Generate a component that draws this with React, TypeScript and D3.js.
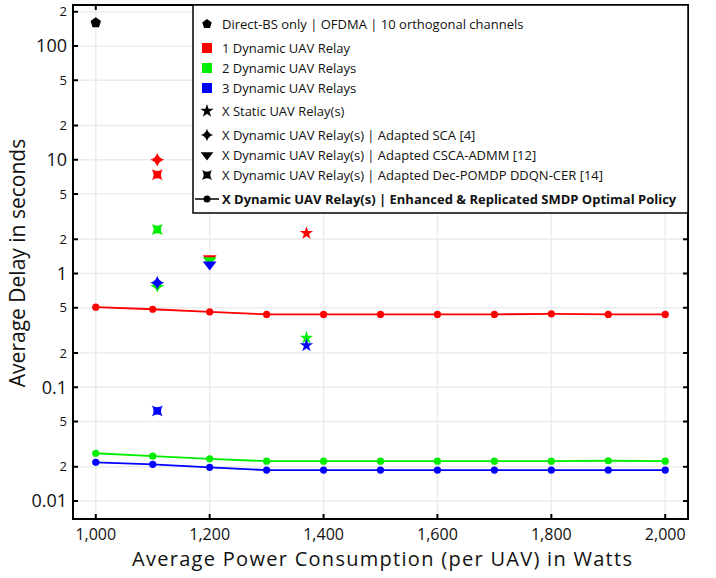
import React from "react";
import * as d3 from "d3";

// ---------- data ----------
const powerLevels = [1000, 1100, 1200, 1300, 1400, 1500, 1600, 1700, 1800, 1900, 2000];
const smdpRelay1 = [0.506, 0.485, 0.46, 0.437, 0.437, 0.437, 0.437, 0.437, 0.442, 0.437, 0.437];
const smdpRelay2 = [0.0263, 0.0248, 0.0235, 0.0224, 0.0224, 0.0224, 0.0224, 0.0224, 0.0224, 0.0226, 0.0224];
const smdpRelay3 = [0.0219, 0.021, 0.0198, 0.0187, 0.0187, 0.0187, 0.0187, 0.0187, 0.0187, 0.0187, 0.0187];

const directBS = { x: 1000, y: 160 };
// [relays, power, delay]
const scaPoints = [[1, 1108, 10.0], [2, 1108, 0.78], [3, 1108, 0.83]];
const cscaPoints = [[1, 1200, 1.36], [2, 1200, 1.31], [3, 1200, 1.2]];
const pomdpPoints = [[1, 1108, 7.4], [2, 1108, 2.44], [3, 1108, 0.062]];
const staticPoints = [[1, 1370, 2.26], [2, 1370, 0.272], [3, 1370, 0.233]];

const xTickValues = [1000, 1200, 1400, 1600, 1800, 2000];
const xTickLabels = ["1,000", "1,200", "1,400", "1,600", "1,800", "2,000"];
const yTickValues = [0.01, 0.02, 0.05, 0.1, 0.2, 0.5, 1, 2, 5, 10, 20, 50, 100, 200];
const yTickLabels = ["0.01", "2", "5", "0.1", "2", "5", "1", "2", "5", "10", "2", "5", "100", "2"];
const yMajor = [0.01, 0.1, 1, 10, 100];

const legendLabels = [
  "Direct-BS only | OFDMA | 10 orthogonal channels",
  "1 Dynamic UAV Relay",
  "2 Dynamic UAV Relays",
  "3 Dynamic UAV Relays",
  "X Static UAV Relay(s)",
  "X Dynamic UAV Relay(s) | Adapted SCA [4]",
  "X Dynamic UAV Relay(s) | Adapted CSCA-ADMM [12]",
  "X Dynamic UAV Relay(s) | Adapted Dec-POMDP DDQN-CER [14]",
  "X Dynamic UAV Relay(s) | Enhanced & Replicated SMDP Optimal Policy",
];

const relayColors: Record<number, string> = { 1: "#ff0000", 2: "#00ee00", 3: "#0000ff" };

// ---------- marker paths (plotly-like) ----------
const rd = (v: number) => Math.round(v * 100) / 100;
function starDiamond(r: number) {
  const rp = rd(r * 1.4), rc = rd(r * 1.9);
  const a = `A ${rc},${rc} 0 0 1 `;
  return `M-${rp},0${a}0,${rp}${a}${rp},0${a}0,-${rp}${a}-${rp},0Z`;
}
function starSquare(r: number) {
  const rp = rd(r * 1.1), rc = rd(r * 2);
  const a = `A ${rc},${rc} 0 0 1 `;
  return `M-${rp},-${rp}${a}-${rp},${rp}${a}${rp},${rp}${a}${rp},-${rp}${a}-${rp},-${rp}Z`;
}
function triangleDown(r: number) {
  const rt = rd((r * 2) / Math.sqrt(3)), r2 = rd(r / 2);
  return `M-${rt},-${r2}H${rt}L0,${rd(r)}Z`;
}
function pentagon(r: number) {
  const x1 = rd(r * 0.951), x2 = rd(r * 0.588), y0 = rd(-r), y1 = rd(r * -0.309), y2 = rd(r * 0.809);
  return `M${x1},${y1}L${x2},${y2}H-${x2}L-${x1},${y1}L0,${y0}Z`;
}
function star(r: number) {
  const rs = r * 1.4;
  const x1 = rd(rs * 0.225), x2 = rd(rs * 0.951), x3 = rd(rs * 0.363), x4 = rd(rs * 0.588);
  const y0 = rd(-rs), y1 = rd(rs * -0.309), y3 = rd(rs * 0.118), y4 = rd(rs * 0.809), y2 = rd(rs * 0.382);
  return `M${x1},${y1}H${x2}L${x3},${y3}L${x4},${y4}L0,${y2}L-${x4},${y4}L-${x3},${y3}L-${x2},${y1}H-${x1}L0,${y0}Z`;
}

const FONT = "'Open Sans', 'DejaVu Sans', sans-serif";

export default function App() {
  const W = 716, H = 578;
  const left = 73, right = 688, top = 5, bottom = 519;
  const x = d3.scaleLinear().domain([960, 2040]).range([left, right]);
  const y = d3.scaleLog().domain([0.00695, 229.3]).range([bottom, top]);

  const line = d3
    .line<number>()
    .x((_, i) => x(powerLevels[i]))
    .y((d) => y(d));

  const series = [
    { vals: smdpRelay1, c: relayColors[1] },
    { vals: smdpRelay2, c: relayColors[2] },
    { vals: smdpRelay3, c: relayColors[3] },
  ];

  const mr = 5;
  const scatterGroups = [
    { pts: scaPoints, path: starDiamond(mr) },
    { pts: cscaPoints, path: triangleDown(mr + 1) },
    { pts: pomdpPoints, path: starSquare(mr) },
    { pts: staticPoints, path: star(mr) },
  ];

  // legend layout
  const lgX = 193, lgY = 5, lgW = right - lgX, lgH = 208;
  const rowY = [24, 48, 68, 88, 111, 135, 155, 175, 199];
  const symX = 207, txtX = 222;

  return (
    <svg
      width={W}
      height={H}
      style={{ position: "absolute", left: 0, top: 0, background: "#fff" }}
      fontFamily={FONT}
    >
      <rect x={0} y={0} width={W} height={H} fill="#fff" />
      {/* gridlines */}
      {xTickValues.map((v) => (
        <line key={"gx" + v} x1={x(v)} x2={x(v)} y1={top} y2={bottom} stroke="#ececec" strokeWidth={1.5} />
      ))}
      {yTickValues.map((v) => (
        <line key={"gy" + v} x1={left} x2={right} y1={y(v)} y2={y(v)} stroke="#ececec" strokeWidth={1.5} />
      ))}

      {/* lines */}
      {series.map((s, k) => (
        <g key={"s" + k}>
          <path d={line(s.vals) || ""} fill="none" stroke={s.c} strokeWidth={1.8} />
          {s.vals.map((v, i) => (
            <circle key={i} cx={x(powerLevels[i])} cy={y(v)} r={3.6} fill={s.c} />
          ))}
        </g>
      ))}

      {/* scatter markers */}
      <path
        d={pentagon(5.5)}
        transform={`translate(${x(directBS.x)},${y(directBS.y)})`}
        fill="#000"
      />
      {scatterGroups.map((g, gi) =>
        g.pts.map((p, i) => (
          <path
            key={gi + "-" + i}
            d={g.path}
            transform={`translate(${x(p[1])},${y(p[2])})`}
            fill={relayColors[p[0]]}
          />
        ))
      )}

      {/* frame */}
      <rect x={left} y={top} width={right - left} height={bottom - top} fill="none" stroke="#000" strokeWidth={2} />

      {/* ticks */}
      {xTickValues.map((v) => (
        <g key={"tx" + v}>
          <line x1={x(v)} x2={x(v)} y1={bottom} y2={bottom - 5} stroke="#000" strokeWidth={2} />
          <line x1={x(v)} x2={x(v)} y1={top} y2={top + 5} stroke="#000" strokeWidth={2} />
        </g>
      ))}
      {yTickValues.map((v) => (
        <g key={"ty" + v}>
          <line x1={left} x2={left + 5} y1={y(v)} y2={y(v)} stroke="#000" strokeWidth={2} />
          <line x1={right} x2={right - 5} y1={y(v)} y2={y(v)} stroke="#000" strokeWidth={2} />
        </g>
      ))}

      {/* tick labels */}
      {xTickValues.map((v, i) => (
        <text key={"lx" + v} x={x(v)} y={540} textAnchor="middle" fontSize={16} fill="#111">
          {xTickLabels[i]}
        </text>
      ))}
      {yTickValues.map((v, i) => {
        const major = yMajor.includes(v);
        return (
          <text
            key={"ly" + v}
            x={67}
            y={y(v)}
            dy="0.35em"
            textAnchor="end"
            fontSize={major ? 18 : 13}
            fill="#111"
          >
            {yTickLabels[i]}
          </text>
        );
      })}

      {/* axis titles */}
      <text
        x={382}
        y={566}
        textAnchor="middle"
        fontSize={20}
        fill="#111"
        textLength={500}
        lengthAdjust="spacing"
      >
        Average Power Consumption (per UAV) in Watts
      </text>
      <text
        transform={`translate(25,${263}) rotate(-90)`}
        textAnchor="middle"
        fontSize={21}
        fill="#111"
      >
        Average Delay in seconds
      </text>

      {/* legend */}
      <rect x={lgX} y={lgY} width={lgW} height={lgH} fill="#fff" stroke="#000" strokeWidth={1.5} />
      {legendLabels.map((lab, i) => {
        const cy = rowY[i];
        let sym: React.ReactNode = null;
        if (i === 0) sym = <path d={pentagon(5)} transform={`translate(${symX},${cy})`} fill="#000" />;
        else if (i >= 1 && i <= 3)
          sym = <rect x={symX - 5} y={cy - 5} width={10} height={10} fill={relayColors[i]} />;
        else if (i === 4) sym = <path d={star(5)} transform={`translate(${symX},${cy})`} fill="#000" />;
        else if (i === 5) sym = <path d={starDiamond(4.5)} transform={`translate(${symX},${cy})`} fill="#000" />;
        else if (i === 6) sym = <path d={triangleDown(5.5)} transform={`translate(${symX},${cy})`} fill="#000" />;
        else if (i === 7) sym = <path d={starSquare(4.5)} transform={`translate(${symX},${cy})`} fill="#000" />;
        else
          sym = (
            <g>
              <line x1={symX - 12} x2={symX + 12} y1={cy} y2={cy} stroke="#000" strokeWidth={1.5} />
              <circle cx={symX} cy={cy} r={3.5} fill="#000" />
            </g>
          );
        return (
          <g key={"lg" + i}>
            {sym}
            <text
              x={txtX}
              y={cy}
              dy="0.35em"
              fontSize={13}
              fontWeight={i === 8 ? 700 : 400}
              fill="#111"
            >
              {lab}
            </text>
          </g>
        );
      })}
    </svg>
  );
}
